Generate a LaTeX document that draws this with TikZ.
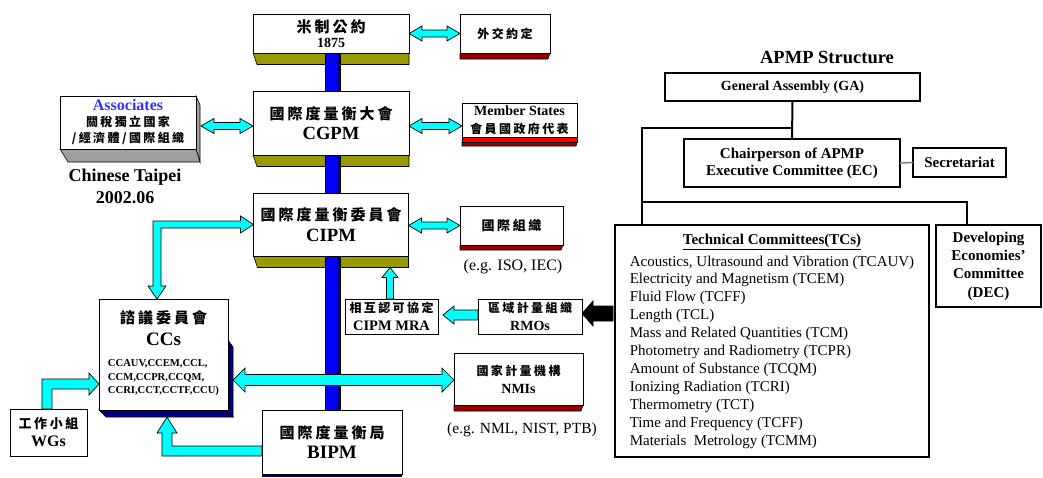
\documentclass[tikz,border=0pt]{standalone}
\usepackage{fontspec}
\setmainfont{Liberation Serif}
\newfontfamily\cjk{Noto Sans CJK TC}[BoldFont={Noto Sans CJK TC Black},LetterSpace=20]
\usetikzlibrary{calc}
\pgfdeclarelayer{bg}
\pgfsetlayers{bg,main}
\definecolor{olivec}{RGB}{153,153,0}
\definecolor{dredc}{RGB}{153,0,0}
\definecolor{bredc}{RGB}{255,0,0}
\definecolor{cyanc}{RGB}{0,255,255}
\definecolor{barblue}{RGB}{0,0,255}
\definecolor{navyc}{RGB}{0,0,128}
\definecolor{grayc}{RGB}{160,160,160}
\definecolor{assocblue}{RGB}{51,51,255}
\newcommand\CJ[2]{\fontsize{#1}{#2}\selectfont\cjk\bfseries}
\newcommand\LT[2]{\fontsize{#1}{#2}\selectfont\rmfamily\bfseries}
\newcommand\RG[2]{\fontsize{#1}{#2}\selectfont\rmfamily\mdseries}
% double-headed horizontal arrow: left point, right point (y from right point), shaft half, head half, head length
\newcommand\DArrH[6][carr]{%
  \draw[#1] let \p1=#2, \p2=#3 in
  (\x1,\y2) -- (\x1+#6pt,\y2+#5pt) -- (\x1+#6pt,\y2+#4pt) -- (\x2-#6pt,\y2+#4pt) -- (\x2-#6pt,\y2+#5pt)
  -- (\x2,\y2) -- (\x2-#6pt,\y2-#5pt) -- (\x2-#6pt,\y2-#4pt) -- (\x1+#6pt,\y2-#4pt) -- (\x1+#6pt,\y2-#5pt) -- cycle;}
% left-pointing arrow: tail point, tip point (y from tip)
\newcommand\LArr[6][carr]{%
  \draw[#1] let \p1=#2, \p2=#3 in
  (\x2,\y2) -- (\x2+#6pt,\y2+#5pt) -- (\x2+#6pt,\y2+#4pt) -- (\x1,\y2+#4pt) -- (\x1,\y2-#4pt)
  -- (\x2+#6pt,\y2-#4pt) -- (\x2+#6pt,\y2-#5pt) -- cycle;}
% up-pointing arrow: tail point (x), tip point (y)
\newcommand\UArr[6][carr]{%
  \draw[#1] let \p1=#2, \p2=#3 in
  (\x1-#4pt,\y1) -- (\x1-#4pt,\y2-#6pt) -- (\x1-#5pt,\y2-#6pt) -- (\x1,\y2) -- (\x1+#5pt,\y2-#6pt)
  -- (\x1+#4pt,\y2-#6pt) -- (\x1+#4pt,\y1) -- cycle;}
\tikzset{
  wbox/.style={draw=black, line width=0.8pt, fill=white, inner sep=0pt, outer sep=0pt, align=center},
  abox/.style={draw=black, line width=1.8pt, fill=white, inner sep=0pt, outer sep=0pt, align=center,
    font=\fontsize{15}{17}\selectfont\bfseries},
  txt/.style={inner sep=0pt, align=center},
  ls/.style={font=\fontsize{10}{#1}\selectfont},
  carr/.style={draw=black, line width=0.7pt, fill=cyanc, line join=miter},
  barr/.style={draw=black, line width=0.7pt, fill=black, line join=miter},
  oband/.style={draw=black, line width=0.6pt, fill=olivec},
  rband/.style={draw=black, line width=0.6pt, fill=dredc},
  aline/.style={draw=black, line width=2pt},
}
\begin{document}
\begin{tikzpicture}[x=1pt,y=-1pt]
\useasboundingbox (0,0) rectangle (1043,477);
\begin{pgfonlayer}{bg}
\fill[white] (0,0) rectangle (1043,477);
\end{pgfonlayer}

% ---------------- left: CIPM structure ----------------
\node[wbox, ls=15.5, minimum width=156pt, minimum height=39pt] (mc) at (331,33.5)
  {\CJ{15}{15}米制公約\\\LT{14}{15}1875};
\node[wbox, minimum width=90pt, minimum height=39pt] (wj) at (505,33.5)
  {\CJ{12}{14}外交約定};
\node[wbox, ls=20, minimum width=156pt, minimum height=64pt] (cgpm) at (331,123)
  {\CJ{15}{20}國際度量衡大會\\\LT{18.6}{20}CGPM};
\node[wbox, ls=18, minimum width=115pt, minimum height=34pt] (ms) at (519.5,120)
  {\LT{14}{18}Member States\\\CJ{12}{18}會員國政府代表};
\node[wbox, ls=16, minimum width=136pt, minimum height=53pt] (asc) at (128,122.5)
  {\LT{16}{16}{\color{assocblue}Associates}\\\CJ{12}{16}關稅獨立國家\\\CJ{12}{16}/經濟體/國際組織};
\node[txt, ls=22] (ctp) at (125,186) {\LT{18}{22}Chinese Taipei\\\LT{18}{22}2002.06};
\node[wbox, ls=21, minimum width=155pt, minimum height=63pt] (cipm) at (331,224.5)
  {\CJ{15}{21}國際度量衡委員會\\\LT{18.7}{21}CIPM};
\node[wbox, minimum width=103pt, minimum height=39pt] (io) at (511.5,225.5)
  {\CJ{13}{14}國際組織};
\node[txt] (eg1) at (513,267) {\RG{16}{18}(e.g. ISO, IEC)};
\node[wbox, ls=21.5, minimum width=129pt, minimum height=111pt] (cc) at (163.5,354.5)
  {\CJ{15}{21.5}諮議委員會\\\LT{19}{21.5}CCs\\{\LT{10.6}{13.5}\begin{tabular}[t]{@{}l@{}}CCAUV,CCEM,CCL,\\CCM,CCPR,CCQM,\\CCRI,CCT,CCTF,CCU)\end{tabular}}};
\node[wbox, ls=18, minimum width=93pt, minimum height=35pt] (mra) at (391.5,316.5)
  {\CJ{12}{18}相互認可協定\\\LT{14.5}{18}CIPM MRA};
\node[wbox, ls=18, minimum width=104pt, minimum height=35pt] (rmo) at (530,316.5)
  {\CJ{12}{18}區域計量組織\\\LT{14}{18}RMOs};
\node[wbox, ls=18, minimum width=129pt, minimum height=52pt] (nmi) at (518.5,379)
  {\CJ{12}{18}國家計量機構\\\LT{14}{18}NMIs};
\node[txt] (eg2) at (522,430) {\RG{15.5}{18}(e.g. NML, NIST, PTB)};
\node[wbox, ls=20, minimum width=140pt, minimum height=64pt] (bipm) at (332,442)
  {\CJ{15}{20}國際度量衡局\\\LT{19}{20}BIPM};
\node[wbox, ls=18, minimum width=77pt, minimum height=47pt] (wg) at (48.5,432.5)
  {\CJ{13}{18}工作小組\\\LT{16}{18}WGs};

% ---------------- right: APMP structure ----------------
\node[txt] (title) at (827,57) {\LT{18.5}{20}APMP Structure};
\node[abox, minimum width=255pt, minimum height=28pt, font=\fontsize{14}{16}\selectfont\bfseries] (ga) at (792.5,87)
  {General Assembly (GA)};
\node[abox, minimum width=216pt, minimum height=48pt] (ec) at (792,163)
  {Chairperson of APMP\\Executive Committee (EC)};
\node[abox, minimum width=93pt, minimum height=29pt] (sec) at (959.5,162.5) {Secretariat};
\node[abox, minimum width=314pt, minimum height=232pt, font=\fontsize{15}{17.9}\selectfont] (tc) at (772,341)
  {\begin{tabular}{@{}l@{}}\multicolumn{1}{c}{\bfseries\underline{Technical Committees(TCs)}}\\[4pt]
   Acoustics, Ultrasound and Vibration (TCAUV)\\
   Electricity and Magnetism (TCEM)\\
   Fluid Flow (TCFF)\\
   Length (TCL)\\
   Mass and Related Quantities (TCM)\\
   Photometry and Radiometry (TCPR)\\
   Amount of Substance (TCQM)\\
   Ionizing Radiation (TCRI)\\
   Thermometry (TCT)\\
   Time and Frequency (TCFF)\\
   Materials\ \ Metrology (TCMM)\end{tabular}};
\node[abox, minimum width=105pt, minimum height=82pt, font=\fontsize{15}{18.3}\selectfont\bfseries] (dec) at (988.5,266)
  {Developing\\Economies'\\Committee\\(DEC)};

\coordinate (j1) at (642,128);
\coordinate (j2) at (642,202);
\coordinate (j3) at (967,202);
\draw[aline] (ga.south) -- (ec.north);
\draw[aline] (ga.south |- j1) -- (j1) -- (j1 |- tc.north);
\draw[aline] (j2) -- (j3) -- (j3 |- dec.north);
\draw[draw=gray, line width=1.5pt] (ec.east) -- (sec.west);

% ---------------- background layer: 3D faces, arrows, bar ----------------
\begin{pgfonlayer}{bg}
\foreach \n in {mc,cgpm,cipm}
  \draw[oband] (\n.south west) -- (\n.south east) -- ([yshift=-11.5pt]\n.south east) -- ([xshift=4pt,yshift=-11.5pt]\n.south west) -- cycle;
\draw[rband] (wj.south west) -- (wj.south east) -- ([xshift=-2pt,yshift=-6pt]wj.south east) -- ([yshift=-6pt]wj.south west) -- cycle;
\draw[rband] (io.south west) -- (io.south east) -- ([xshift=-2pt,yshift=-5pt]io.south east) -- ([yshift=-5pt]io.south west) -- cycle;
\draw[rband] (nmi.south west) -- (nmi.south east) -- ([xshift=-2pt,yshift=-6pt]nmi.south east) -- ([yshift=-6pt]nmi.south west) -- cycle;
\draw[rband] ([yshift=-5pt]ms.south west) -- ([yshift=-5pt]ms.south east) -- ([xshift=-1pt,yshift=-9pt]ms.south east) -- ([yshift=-9pt]ms.south west) -- cycle;
\draw[draw=black, line width=0.6pt, fill=bredc] (ms.south west) -- (ms.south east) -- ([yshift=-5pt]ms.south east) -- ([yshift=-5pt]ms.south west) -- cycle;
% associates gray extrusion
\draw[draw=black, line width=0.6pt, fill=grayc] (asc.north east) -- ([xshift=4pt,yshift=-9pt]asc.north east) -- ([xshift=4pt,yshift=-13pt]asc.south east) -- (asc.south east) -- cycle;
\draw[draw=black, line width=0.6pt, fill=grayc] (asc.south west) -- (asc.south east) -- ([xshift=4pt,yshift=-13pt]asc.south east) -- ([xshift=8pt,yshift=-13pt]asc.south west) -- cycle;
% CCs navy extrusion
\draw[draw=black, line width=0.6pt, fill=navyc] ([yshift=-41pt]cc.north east) -- ([xshift=5pt,yshift=-48pt]cc.north east) -- ([xshift=5pt,yshift=-7pt]cc.south east) -- (cc.south east) -- cycle;
\draw[draw=black, line width=0.6pt, fill=navyc] (cc.south west) -- (cc.south east) -- ([xshift=5pt,yshift=-7pt]cc.south east) -- ([xshift=7pt,yshift=-7pt]cc.south west) -- cycle;
% BIPM navy strip
\fill[navyc] (bipm.south west) rectangle ([yshift=-3pt]bipm.south east);

% arrows
\DArrH{(mc.east)}{(wj.west)}{3.5}{7.5}{13}
\DArrH{([xshift=5pt]asc.east)}{([yshift=-3pt]cgpm.west)}{3.5}{7.5}{13}
\DArrH{(cgpm.east)}{([yshift=-6pt]ms.west)}{3.5}{7.5}{13}
\DArrH{(cipm.east)}{(io.west)}{3.5}{7.5}{13}
\LArr{(rmo.west)}{([xshift=5pt,yshift=1.5pt]mra.east)}{5}{9}{11}
\LArr[barr]{([xshift=-2pt]tc.west)}{([yshift=3pt]rmo.east)}{7.5}{12.5}{11}
\UArr{([xshift=-1.5pt]mra.north)}{([yshift=-11.5pt]cipm.south)}{3.5}{8}{10}
% CIPM <-> CCs (L shape)
\draw[carr] let \p1=(cipm.west), \p2=([xshift=-6.5pt]cc.north) in
  (\x1,\y1) -- (\x1-13pt,\y1+8.5pt) -- (\x1-13pt,\y1+3.5pt) -- (\x2-4pt,\y1+3.5pt) -- (\x2-4pt,\y2+13pt)
  -- (\x2-9pt,\y2+13pt) -- (\x2,\y2) -- (\x2+9pt,\y2+13pt) -- (\x2+4pt,\y2+13pt) -- (\x2+4pt,\y1-3.5pt)
  -- (\x1-13pt,\y1-3.5pt) -- (\x1-13pt,\y1-8.5pt) -- cycle;
% WGs -> CCs
\draw[carr] let \p1=([xshift=-1.5pt]wg.north), \p2=([yshift=-29.5pt]cc.west) in
  (\x1-5pt,\y1) -- (\x1-5pt,\y2+5pt) -- (\x2-10pt,\y2+5pt) -- (\x2-10pt,\y2+11pt) -- (\x2,\y2)
  -- (\x2-10pt,\y2-11pt) -- (\x2-10pt,\y2-5pt) -- (\x1+5pt,\y2-5pt) -- (\x1+5pt,\y1) -- cycle;
% BIPM -> CCs
\draw[carr] let \p1=([yshift=-9pt]bipm.west), \p2=([xshift=3.5pt,yshift=-7pt]cc.south) in
  (\x1,\y1+5pt) -- (\x2+5pt,\y1+5pt) -- (\x2+5pt,\y2-16pt) -- (\x2+10pt,\y2-16pt) -- (\x2,\y2)
  -- (\x2-10pt,\y2-16pt) -- (\x2-5pt,\y2-16pt) -- (\x2-5pt,\y1-5pt) -- (\x1,\y1-5pt) -- cycle;

% blue vertical bar
\draw[draw=black, line width=0.5pt, fill=barblue] ($(mc.south)+(-6,0)$) rectangle ($(mc.south |- bipm.north)+(9,0)$);
\fill[navyc] ($(mc.south)+(6,0)$) rectangle ($(mc.south |- bipm.north)+(9,0)$);
% CCs <-> NMIs, drawn over the bar
\DArrH{([xshift=5pt]cc.east)}{([yshift=-1pt]nmi.west)}{5.5}{12}{12}
\end{pgfonlayer}
\end{tikzpicture}
\end{document}
